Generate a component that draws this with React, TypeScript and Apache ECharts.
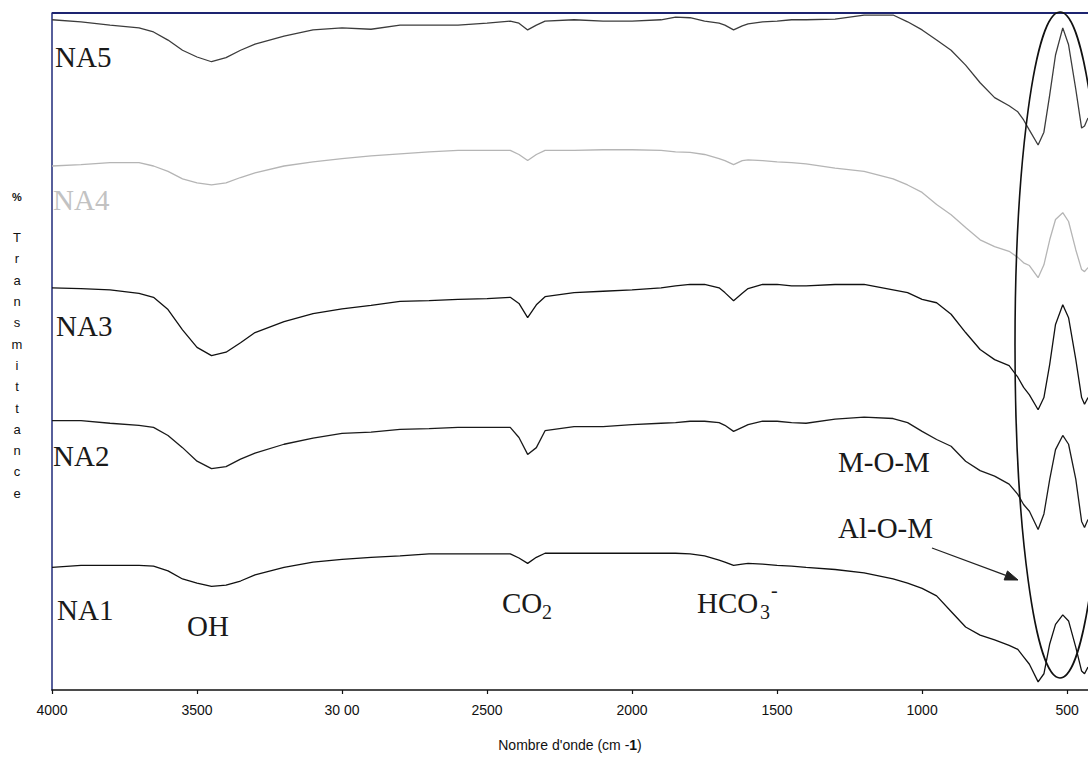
import React, { useEffect, useRef } from "react";
import * as echarts from "echarts";

// Wavenumbers (cm-1), shared by all spectra
const wavenumbers = [4000, 3900, 3800, 3700, 3650, 3600, 3550, 3500, 3450, 3400, 3350, 3300, 3200, 3100, 3000, 2900, 2800, 2700, 2600, 2500, 2420, 2390, 2360, 2330, 2300, 2200, 2100, 2000, 1900, 1850, 1800, 1750, 1700, 1680, 1650, 1620, 1600, 1550, 1500, 1450, 1400, 1300, 1200, 1100, 1050, 1000, 950, 900, 850, 800, 750, 700, 670, 650, 630, 600, 580, 560, 540, 515, 495, 470, 450, 440, 428];

// % transmittance (stacked, arbitrary offset)
const na5 = [99.0, 98.7, 98.2, 97.8, 97.2, 96.0, 94.5, 93.5, 92.8, 93.4, 94.5, 95.4, 96.6, 97.5, 97.8, 97.6, 98.2, 98.2, 98.2, 98.5, 98.8, 98.5, 97.5, 98.2, 98.8, 99.0, 98.8, 98.8, 99.0, 99.4, 99.3, 98.8, 98.5, 98.2, 97.5, 98.1, 98.4, 98.7, 98.8, 99.0, 99.0, 99.1, 99.7, 99.7, 98.7, 97.5, 96.0, 94.5, 92.3, 89.7, 87.5, 86.3, 85.4, 84.2, 82.7, 80.5, 82.4, 87.9, 93.8, 97.8, 95.3, 88.7, 83.0, 83.3, 84.5];
const na4 = [77.4, 77.6, 77.9, 77.9, 77.4, 76.6, 75.5, 74.9, 74.6, 74.9, 75.7, 76.4, 77.4, 78.0, 78.5, 78.9, 79.2, 79.5, 79.7, 79.7, 79.7, 79.1, 78.2, 79.1, 79.7, 79.7, 79.8, 79.8, 79.7, 79.5, 79.4, 79.1, 78.5, 78.2, 77.6, 78.2, 78.3, 78.2, 78.0, 77.9, 77.7, 77.1, 76.6, 75.5, 74.6, 73.5, 71.7, 70.2, 68.3, 66.5, 65.5, 64.8, 63.9, 63.1, 62.7, 60.9, 62.8, 66.5, 69.5, 70.5, 69.2, 65.0, 62.1, 61.8, 62.4];
const na3 = [59.4, 59.3, 59.1, 58.6, 58.0, 56.2, 53.2, 50.6, 49.4, 49.9, 51.3, 52.8, 54.4, 55.6, 56.3, 56.8, 57.4, 57.5, 57.7, 57.8, 58.0, 57.1, 55.0, 56.9, 58.1, 58.7, 58.9, 59.1, 59.4, 59.7, 59.9, 59.9, 59.4, 58.7, 57.5, 58.6, 59.3, 59.9, 59.9, 59.7, 59.7, 59.9, 59.9, 59.1, 58.7, 57.7, 57.2, 55.5, 52.8, 50.3, 48.8, 47.9, 46.2, 44.7, 43.6, 41.4, 43.2, 48.1, 54.0, 56.9, 55.0, 48.8, 43.2, 42.2, 43.2];
const na2 = [39.8, 39.8, 39.4, 39.1, 38.8, 37.6, 35.8, 33.8, 32.7, 33.0, 34.1, 35.0, 36.3, 37.2, 37.9, 38.1, 38.5, 38.6, 38.8, 38.8, 38.8, 37.3, 34.8, 35.8, 38.3, 38.9, 38.9, 39.2, 39.4, 39.5, 39.7, 39.7, 39.5, 39.1, 38.2, 38.8, 39.2, 39.7, 39.7, 39.5, 39.4, 40.0, 40.3, 40.1, 39.5, 38.2, 37.0, 36.0, 33.8, 32.4, 31.6, 30.4, 28.9, 27.4, 26.4, 23.7, 26.0, 31.1, 35.5, 37.6, 36.3, 31.1, 24.9, 24.0, 25.2];
const na1 = [18.1, 18.4, 18.4, 18.4, 18.3, 17.6, 16.4, 15.8, 15.3, 15.5, 16.1, 17.0, 18.1, 18.9, 19.3, 19.6, 19.8, 20.1, 20.1, 20.1, 20.1, 19.5, 18.7, 19.6, 20.2, 20.2, 20.2, 20.2, 20.2, 20.2, 20.1, 19.8, 19.2, 18.9, 18.4, 18.6, 18.7, 18.6, 18.4, 18.3, 18.1, 17.8, 17.3, 16.4, 15.8, 15.0, 13.9, 11.6, 9.3, 8.1, 7.4, 6.6, 6.0, 4.9, 3.8, 1.2, 2.4, 6.8, 9.7, 11.1, 10.2, 6.3, 2.8, 2.4, 3.4];

const tickValues = [4000, 3500, 3000, 2500, 2000, 1500, 1000, 500];
const tickLabels = ["4000", "3500", "30 00", "2500", "2000", "1500", "1000", "500"];

const seriesNames = ["NA1", "NA2", "NA3", "NA4", "NA5"];
const seriesValues = [na1, na2, na3, na4, na5];
const seriesColors = ["#111111", "#1a1a1a", "#111111", "#b5b5b5", "#3c3c3c"];

const yTitleChars = ["T", "r", "a", "n", "s", "m", "i", "t", "t", "a", "n", "c", "e"];

const SERIF = '"Liberation Serif", "Times New Roman", serif';
const SANS = '"Liberation Sans", Arial, sans-serif';

export default function App() {
  const ref = useRef<HTMLDivElement>(null);

  useEffect(() => {
    if (!ref.current) return;
    const chart = echarts.init(ref.current, null, { renderer: "svg" });

    const labelText = (text: string, x: number, y: number, color = "#1a1a1a", size = 29) => ({
      type: "text",
      x,
      y,
      z: 100,
      style: { text, fill: color, font: `${size}px ${SERIF}`, align: "left", verticalAlign: "middle" },
    });

    const arrowTip = [1018, 580];
    const arrowStart = [932, 548];
    const dx = arrowTip[0] - arrowStart[0];
    const dy = arrowTip[1] - arrowStart[1];
    const len = Math.sqrt(dx * dx + dy * dy);
    const ux = dx / len, uy = dy / len;
    const hl = 13, hw = 4.8;
    const bx = arrowTip[0] - ux * hl, by = arrowTip[1] - uy * hl;

    chart.setOption({
      animation: false,
      backgroundColor: "#ffffff",
      grid: { left: 52, right: 0, top: 13, bottom: 66, containLabel: false },
      xAxis: {
        type: "value",
        inverse: true,
        min: 428,
        max: 4000,
        name: "Nombre d'onde (cm -{b|1})",
        nameLocation: "middle",
        nameGap: 48,
        nameTextStyle: {
          fontFamily: SANS,
          fontSize: 14,
          color: "#111",
          verticalAlign: "top",
          rich: { b: { fontFamily: SANS, fontSize: 14, fontWeight: "bold", color: "#111" } },
        },
        axisLine: { show: true, onZero: false, lineStyle: { color: "#111", width: 1.5 } },
        axisTick: { show: true, length: 4, inside: false, customValues: tickValues, lineStyle: { color: "#111", width: 1.2 } },
        axisLabel: {
          customValues: tickValues,
          formatter: (v: number) => {
            const i = tickValues.indexOf(v);
            return i >= 0 ? tickLabels[i] : "";
          },
          margin: 13,
          fontFamily: SANS,
          fontSize: 14,
          color: "#111",
        },
        splitLine: { show: false },
      },
      yAxis: {
        type: "value",
        min: 0,
        max: 100,
        axisLine: { show: true, onZero: false, lineStyle: { color: "#1f2a7a", width: 1.5 } },
        axisTick: { show: false },
        axisLabel: { show: false },
        splitLine: { show: false },
      },
      series: seriesValues.map((vals, k) => ({
        name: seriesNames[k],
        type: "line",
        showSymbol: false,
        smooth: false,
        lineStyle: { color: seriesColors[k], width: 1.3 },
        data: wavenumbers.map((w, i) => [w, vals[i]]),
        z: 2,
      })),
      graphic: [
        { type: "line", z: 100, shape: { x1: 52, y1: 13, x2: 1088, y2: 13 }, style: { stroke: "#1d2470", lineWidth: 2 } },
        { type: "ellipse", z: 100, shape: { cx: 1060, cy: 345, rx: 45, ry: 333 }, style: { fill: "none", stroke: "#111", lineWidth: 1.6 } },
        { type: "line", z: 100, shape: { x1: arrowStart[0], y1: arrowStart[1], x2: bx, y2: by }, style: { stroke: "#222", lineWidth: 1.3 } },
        {
          type: "polygon",
          z: 100,
          shape: { points: [arrowTip, [bx - uy * hw, by + ux * hw], [bx + uy * hw, by - ux * hw]] },
          style: { fill: "#222", stroke: "#222", lineWidth: 1 },
        },
        labelText("NA5", 55, 57),
        labelText("NA4", 53, 200, "#c2c2c2"),
        labelText("NA3", 56, 326),
        labelText("NA2", 53, 456),
        labelText("NA1", 57, 610),
        labelText("OH", 187, 626),
        labelText("CO", 502, 603),
        labelText("2", 542, 612, "#1a1a1a", 20),
        labelText("HCO", 697, 603),
        labelText("3", 760, 612, "#1a1a1a", 20),
        labelText("-", 771, 590, "#1a1a1a", 20),
        labelText("M-O-M", 838, 462),
        labelText("Al-O-M", 838, 528),
        {
          type: "text",
          x: 17,
          y: 197,
          z: 100,
          style: { text: "%", fill: "#111", font: `bold 11px ${SANS}`, align: "center", verticalAlign: "middle" },
        },
        {
          type: "text",
          x: 17,
          y: 227,
          z: 100,
          style: {
            text: yTitleChars.join("\n"),
            fill: "#111",
            font: `13px ${SANS}`,
            lineHeight: 21.3,
            align: "center",
            verticalAlign: "top",
          },
        },
      ],
    });

    return () => chart.dispose();
  }, []);

  return (
    <div
      ref={ref}
      style={{ position: "fixed", left: 0, top: 0, width: 1088, height: 757, background: "#fff" }}
    />
  );
}
